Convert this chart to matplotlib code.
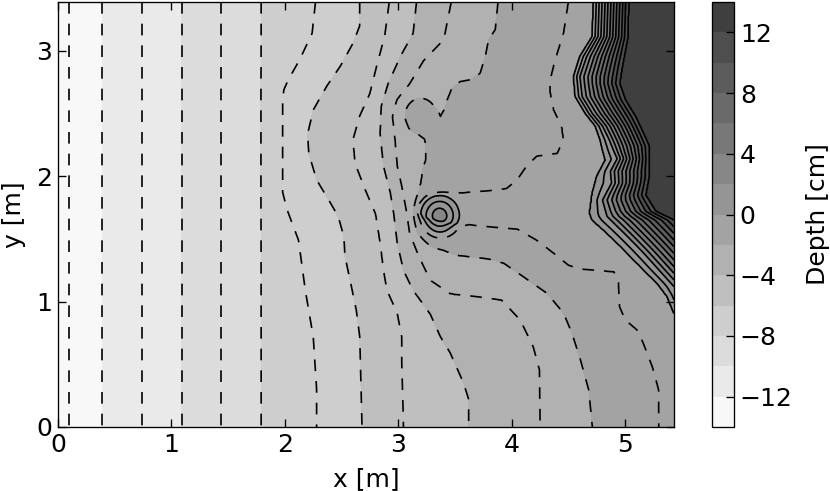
import numpy as np
import matplotlib
matplotlib.use('Agg')
import matplotlib.pyplot as plt

# extent of the basin (m)
X_MAX = 5.43
Y_MAX = 3.39

# offshore slope, the same at every y
off_x = [0.0, 0.10, 0.39, 0.74, 1.09, 1.44, 1.79]
off_z = [-13.3, -13, -12, -11, -10, -9, -8]

# contour lines: y (ascending) and x positions, in m
m7_y = [0, 0.3, 0.72, 1.09, 1.49, 1.73, 1.87, 2.58, 2.69, 2.77, 2.93, 3.14, 3.39]
m7_x = [2.28, 2.28, 2.25, 2.18, 2.12, 2.02, 1.98, 1.98, 1.99, 2.03, 2.13, 2.24, 2.27]

m6_y = [0, 0.72, 0.93, 1.15, 1.36, 1.52, 1.68, 1.79, 1.97, 2.18, 2.34, 2.53, 2.72, 2.88, 3.06, 3.2, 3.39]
m6_x = [2.68, 2.66, 2.63, 2.58, 2.53, 2.52, 2.47, 2.40, 2.28, 2.21, 2.20, 2.25, 2.37, 2.49, 2.60, 2.66, 2.66]

m5_y = [0, 0.51, 0.72, 0.91, 1.09, 1.25, 1.47, 1.70, 1.89, 2.10, 2.29, 2.48, 2.66, 2.88, 3.12, 3.39]
m5_x = [3.045, 3.03, 3.03, 2.99, 2.90, 2.87, 2.84, 2.80, 2.71, 2.62, 2.60, 2.66, 2.75, 2.81, 2.88, 2.92]

m4_y = [0, 0.22, 0.35, 0.59, 0.72, 0.90, 1.09, 1.25, 1.47, 1.70, 1.87, 2.08, 2.34, 2.56, 2.74, 2.96, 3.14, 3.39]
m4_x = [3.62, 3.62, 3.575, 3.457, 3.37, 3.28, 3.13, 3.045, 2.99, 2.96, 2.93, 2.87, 2.84, 2.85, 2.91, 3.02, 3.13, 3.16]

m3_y = [0, 0.455, 0.64, 0.854, 1.013, 1.04, 1.06, 1.17, 1.36, 1.546, 1.73, 1.92, 2.08, 2.29, 2.476, 2.61, 2.74, 2.92, 3.09, 3.39]
m3_x = [4.25, 4.245, 4.19, 4.075, 3.91, 3.69, 3.46, 3.28, 3.18, 3.10, 3.07, 3.03, 2.99, 2.97, 2.95, 2.99, 3.10, 3.22, 3.40, 3.466]

m2_y = [0, 0.295, 0.535, 0.748, 0.907, 1.067, 1.20, 1.306, 1.34, 1.37, 1.44, 1.546, 1.705, 1.865,
        2.08, 2.13, 2.25, 2.32, 2.38, 2.42, 2.61, 2.70, 2.756, 2.77, 2.82, 2.955, 3.09, 3.17, 3.39]
m2_x = [4.71, 4.678, 4.605, 4.53, 4.457, 4.31, 4.10, 3.93, 3.80, 3.50, 3.31, 3.19, 3.15, 3.18,
        3.22, 3.24, 3.24, 3.24, 3.27, 3.37, 3.43, 3.47, 3.545, 3.634, 3.72, 3.766, 3.795, 3.854, 3.878]

m1_y = [0, 0.295, 0.48, 0.668, 0.774, 0.854, 0.96, 1.17, 1.24, 1.26, 1.29, 1.386, 1.49, 1.578, 1.60, 1.63,
        1.67, 1.70, 1.78, 1.84, 1.865, 1.885, 1.90, 1.97, 2.08, 2.16, 2.18, 2.29, 2.40, 2.53, 2.67, 2.77,
        2.93, 3.14, 3.39]
m1_x = [5.296, 5.296, 5.24, 5.16, 5.105, 5.0, 4.95, 4.94, 4.90, 4.60, 4.50, 4.37, 4.22, 4.05, 3.75, 3.45,
        3.25, 3.2, 3.2, 3.3, 3.5, 3.8, 3.95, 4.046, 4.13, 4.22, 4.40, 4.457, 4.44, 4.37, 4.34, 4.34,
        4.384, 4.457, 4.50]

p0_y = [0.907, 1.04, 1.147, 1.253, 1.36, 1.466, 1.57, 1.65, 1.705, 1.865, 2.0, 2.13, 2.21, 2.29, 2.40,
        2.50, 2.636, 2.796, 2.955, 3.115, 3.39]
p0_x = [5.43, 5.37, 5.28, 5.16, 5.046, 4.93, 4.81, 4.71, 4.687, 4.71, 4.75, 4.825, 4.80, 4.78, 4.737,
        4.65, 4.56, 4.545, 4.60, 4.71, 4.72]

p2_y = [1.12, 1.25, 1.40, 1.52, 1.68, 1.81, 1.945, 2.04, 2.14, 2.2, 2.29, 2.4, 2.5, 2.636, 2.796, 2.955, 3.115, 3.39]
p2_x = [5.43, 5.30, 5.15, 5.02, 4.84, 4.80, 4.88, 4.87, 4.93, 4.90, 4.86, 4.80, 4.71, 4.62, 4.60, 4.66, 4.76, 4.77]

p12_y = [1.65, 1.72, 1.85, 2.0, 2.24, 2.344, 2.476, 2.61, 2.74, 2.86, 3.1, 3.39]
p12_x = [5.43, 5.27, 5.18, 5.21, 5.21, 5.16, 5.09, 5.0, 4.95, 4.97, 5.02, 5.03]

# depth along the right-hand edge of the basin
edge_y = [0, 0.907, 1.12, 1.65, 1.75, 3.39]
edge_z = [-0.7, 0, 2, 12, 12.8, 12.8]

# the mound and the small lobe: centre, radius and rise above the bed (cm)
mound_xy = (3.36, 1.68)
mound_r = [0, 0.065, 0.12, 0.17, 0.21, 0.27]
mound_rise = [3.5, 2.9, 1.9, 0.9, 0.35, 0]

lobe_xy = (3.17, 2.49)
lobe_r = [0, 0.10, 0.13, 0.16, 0.20, 0.24]
lobe_rise = [0.9, 0.85, 0.6, 0.22, 0.04, 0]

lines = [(-7, m7_x, m7_y), (-6, m6_x, m6_y), (-5, m5_x, m5_y), (-4, m4_x, m4_y),
         (-3, m3_x, m3_y), (-2, m2_x, m2_y), (-1, m1_x, m1_y), (0, p0_x, p0_y),
         (2, p2_x, p2_y), (12, p12_x, p12_y)]

# build the bed on a grid, row by row, from the traced lines
xg = np.linspace(0, X_MAX, 700)
yg = np.linspace(0, Y_MAX, 450)
rows = []
for y in yg:
    kx = list(off_x)
    kz = list(off_z)
    for lev, lx, ly in lines:
        if ly[0] <= y <= ly[-1]:
            x = np.interp(y, ly, lx)
            if x < X_MAX - 1e-3:
                kx.append(x)
                kz.append(lev)
    kx.append(X_MAX)
    kz.append(np.interp(y, edge_y, edge_z))
    order = np.argsort(kx)
    rows.append(np.interp(xg, np.array(kx)[order], np.array(kz)[order]))
Z = np.array(rows)

XX, YY = np.meshgrid(xg, yg)
for (cx, cy), rr, rise in [(mound_xy, mound_r, mound_rise), (lobe_xy, lobe_r, lobe_rise)]:
    Z += np.interp(np.hypot(XX - cx, YY - cy), rr, rise)

plt.rcParams['font.size'] = 15

fig = plt.figure(figsize=(830 / 120, 491 / 120), dpi=120)
ax = fig.add_axes([58 / 830, 64 / 491, 616 / 830, 425 / 491])

fill_levels = np.arange(-14, 15, 2)
line_levels = np.arange(-13, 13)
cf = ax.contourf(xg, yg, Z, levels=fill_levels, cmap='gray_r', vmin=-14, vmax=22)
styles = [(0, (7, 6)) if lv < 0 else 'solid' for lv in line_levels]
ax.contour(xg, yg, Z, levels=line_levels, colors='k', linewidths=1.0, linestyles=styles)

ax.set_xlim(0, X_MAX)
ax.set_ylim(0, Y_MAX)
ax.set_xticks(range(6))
ax.set_yticks(range(4))
ax.tick_params(direction='in', top=True, right=True, length=5, width=0.8)
ax.set_xlabel('x [m]', labelpad=6)
ax.set_ylabel('y [m]', labelpad=6)

cax = fig.add_axes([712 / 830, 64 / 491, 22 / 830, 425 / 491])
cb = fig.colorbar(cf, cax=cax, ticks=np.arange(-12, 13, 4))
cb.ax.tick_params(direction='in', length=5, width=0.8)
cb.set_label('Depth [cm]', labelpad=8)

fig.savefig('out.png', dpi=120)
